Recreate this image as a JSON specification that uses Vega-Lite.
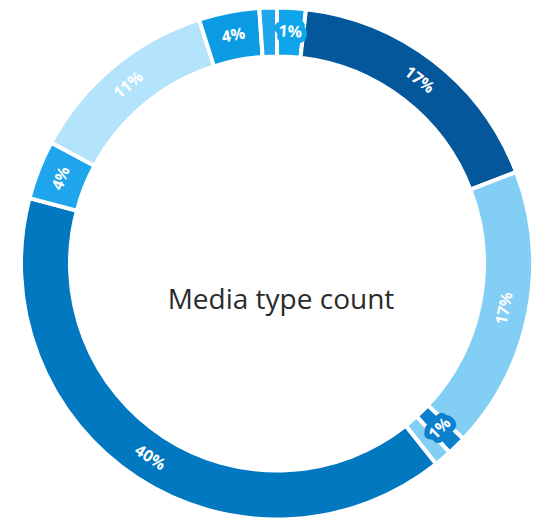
{
  "$schema": "https://vega.github.io/schema/vega-lite/v6.json",
  "width": 541,
  "height": 525,
  "autosize": {"type": "fit", "contains": "padding"},
  "padding": {"left": 13, "right": 0, "top": 2, "bottom": 0},
  "background": "white",
  "view": {"stroke": null},
  "data": {
    "values": [
      {"i": 1, "name": "Type B", "value": 1.8, "label": "1%"},
      {"i": 2, "name": "Type C", "value": 17.3, "label": "17%"},
      {"i": 3, "name": "Type D", "value": 17.75, "label": "17%"},
      {"i": 4, "name": "Type E", "value": 1.2, "label": "1%"},
      {"i": 5, "name": "Type F", "value": 1.1, "label": ""},
      {"i": 6, "name": "Type G", "value": 39.6, "label": "40%"},
      {"i": 7, "name": "Type H", "value": 3.7, "label": "4%"},
      {"i": 8, "name": "Type I", "value": 12.2, "label": "11%"},
      {"i": 9, "name": "Type J", "value": 3.8, "label": "4%"},
      {"i": 10, "name": "Type A", "value": 1.1, "label": ""}
    ]
  },
  "layer": [
    {
      "mark": {"type": "arc", "radius": 256, "radius2": 207, "stroke": "white", "strokeWidth": 4},
      "encoding": {
        "theta": {"field": "value", "type": "quantitative", "stack": true},
        "order": {"field": "i", "type": "quantitative"},
        "color": {
          "field": "name", "type": "nominal", "legend": null,
          "scale": {
            "domain": ["Type A", "Type B", "Type C", "Type D", "Type E", "Type F", "Type G", "Type H", "Type I", "Type J"],
            "range": ["#1ea5ec", "#0ea5ea", "#03579a", "#82cef5", "#0c80cc", "#82cef5", "#0178c0", "#1ea5ec", "#b3e4fb", "#0a9be3"]
          }
        }
      }
    },
    {
      "transform": [
        {"window": [{"op": "sum", "field": "value", "as": "cum"}], "sort": [{"field": "i"}], "frame": [null, 0]},
        {"joinaggregate": [{"op": "sum", "field": "value", "as": "total"}]},
        {"calculate": "(datum.cum - datum.value / 2) / datum.total * 360", "as": "mid"},
        {"calculate": "datum.mid > 90 && datum.mid < 270 ? datum.mid - 180 : datum.mid", "as": "rot"}
      ],
      "mark": {"type": "text", "radius": 232, "fontSize": 16, "font": "Open Sans", "fontWeight": "bold", "strokeWidth": 11, "strokeJoin": "round", "baseline": "middle", "align": "center"},
      "encoding": {
        "theta": {"field": "value", "type": "quantitative", "stack": true},
        "order": {"field": "i", "type": "quantitative"},
        "text": {"field": "label"},
        "angle": {"field": "rot", "type": "quantitative", "scale": null},
        "stroke": {
          "field": "name", "type": "nominal", "legend": null,
          "scale": {
            "domain": ["Type A", "Type B", "Type C", "Type D", "Type E", "Type F", "Type G", "Type H", "Type I", "Type J"],
            "range": ["#1ea5ec", "#0ea5ea", "#03579a", "#82cef5", "#0c80cc", "#82cef5", "#0178c0", "#1ea5ec", "#b3e4fb", "#0a9be3"]
          }
        }
      }
    },
    {
      "transform": [
        {"window": [{"op": "sum", "field": "value", "as": "cum"}], "sort": [{"field": "i"}], "frame": [null, 0]},
        {"joinaggregate": [{"op": "sum", "field": "value", "as": "total"}]},
        {"calculate": "(datum.cum - datum.value / 2) / datum.total * 360", "as": "mid"},
        {"calculate": "datum.mid > 90 && datum.mid < 270 ? datum.mid - 180 : datum.mid", "as": "rot"}
      ],
      "mark": {"type": "text", "radius": 232, "fontSize": 16, "font": "Open Sans", "fontWeight": "bold", "color": "white", "baseline": "middle", "align": "center"},
      "encoding": {
        "theta": {"field": "value", "type": "quantitative", "stack": true},
        "order": {"field": "i", "type": "quantitative"},
        "text": {"field": "label"},
        "angle": {"field": "rot", "type": "quantitative", "scale": null}
      }
    },
    {
      "data": {"values": [{"t": "Media type count"}]},
      "mark": {"type": "text", "fontSize": 28, "font": "Open Sans", "fontWeight": 500, "color": "#2b2b2b", "dx": 4, "dy": 37, "baseline": "middle", "align": "center"},
      "encoding": {"text": {"field": "t"}}
    }
  ]
}
